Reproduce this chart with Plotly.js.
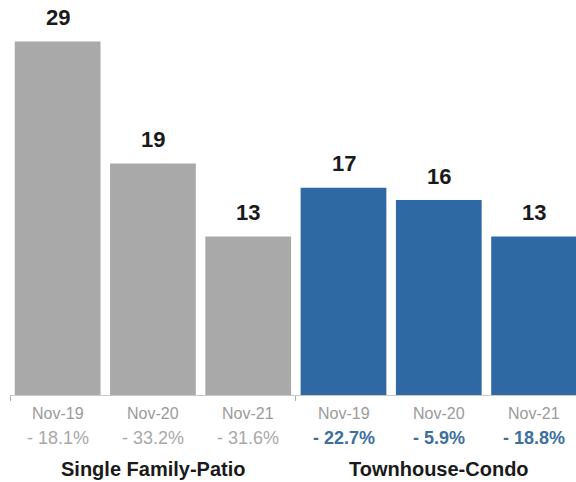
<!DOCTYPE html>
<html>
<head>
<meta charset="utf-8">
<script src="https://cdn.plot.ly/plotly-3.0.1.min.js"></script>
<style>html,body{margin:0;padding:0;background:#fff;}#chart{width:576px;height:482px;}</style>
</head>
<body>
<div id="chart"></div>
<script>
const categories = ["SF-Nov-19", "SF-Nov-20", "SF-Nov-21", "TC-Nov-19", "TC-Nov-20", "TC-Nov-21"];
const tickLabels = ["Nov-19", "Nov-20", "Nov-21", "Nov-19", "Nov-20", "Nov-21"];
const values = [29, 19, 13, 17, 16, 13];
const changes = ["- 18.1%", "- 33.2%", "- 31.6%", "- 22.7%", "- 5.9%", "- 18.8%"];
const groups = ["Single Family-Patio", "Townhouse-Condo"];
const groupMembers = [[0, 1, 2], [3, 4, 5]];

const GRAY = "#a9a9a9";
const BLUE = "#2f69a4";
const barColors = values.map((v, i) => i < 3 ? GRAY : BLUE);
const xIdx = categories.map((c, i) => i);

const FONT = "Liberation Sans, Arial, Helvetica, sans-serif";

const annotations = [];
values.forEach((v, i) => {
  annotations.push({x: i, y: v, xref: "x", yref: "y", text: "<b>" + v + "</b>", showarrow: false,
    yanchor: "middle", yshift: 24, font: {family: FONT, size: 22, color: "#1a1a1a"}});
  annotations.push({x: i, y: 0, xref: "x", yref: "y", text: tickLabels[i], showarrow: false,
    yanchor: "middle", yshift: -18, font: {family: FONT, size: 16, color: "#9a9a9a"}});
  const blue = i >= 3;
  annotations.push({x: i, y: 0, xref: "x", yref: "y", text: blue ? "<b>" + changes[i] + "</b>" : changes[i], showarrow: false,
    yanchor: "middle", yshift: -43, font: {family: FONT, size: 18, color: blue ? "#3d6f9f" : "#a8a8a8"}});
});
groups.forEach((g, gi) => {
  const m = groupMembers[gi];
  const cx = (m[0] + m[m.length - 1]) / 2;
  annotations.push({x: cx, y: 0, xref: "x", yref: "y", text: "<b>" + g + "</b>", showarrow: false,
    yanchor: "middle", yshift: -74, font: {family: FONT, size: 20, color: "#1a1a1a"}});
});

const trace = {
  type: "bar",
  x: xIdx,
  y: values,
  marker: {color: barColors, line: {width: 0}},
  hoverinfo: "none"
};

const layout = {
  width: 576, height: 482,
  margin: {l: 10, r: 0, t: 5, b: 87},
  paper_bgcolor: "#ffffff", plot_bgcolor: "#ffffff",
  bargap: 0.1,
  showlegend: false,
  xaxis: {
    range: [-0.5, 5.44], showgrid: false, zeroline: false,
    showline: true, linecolor: "#c8c8c8", linewidth: 1,
    tickmode: "array", tickvals: [-0.5, 2.5], ticktext: ["", ""],
    ticks: "outside", ticklen: 5, tickcolor: "#b0b0b0", tickwidth: 1
  },
  yaxis: {range: [0, 32], visible: false, showgrid: false, zeroline: false},
  annotations: annotations,
  font: {family: FONT}
};

Plotly.newPlot("chart", [trace], layout, {displayModeBar: false, staticPlot: true});
</script>
</body>
</html>
